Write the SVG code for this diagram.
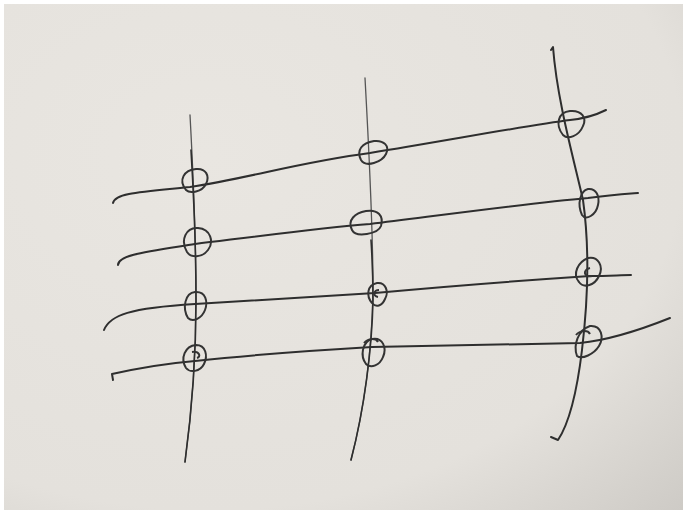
<svg xmlns="http://www.w3.org/2000/svg" width="683" height="510" viewBox="0 0 683 510">
<defs>
<radialGradient id="bg" cx="0.3" cy="0.3" r="1">
<stop offset="0" stop-color="#e9e6e1"/>
<stop offset="0.7" stop-color="#e4e1dc"/>
<stop offset="1" stop-color="#cdcac5"/>
</radialGradient>
<style>
.ln{fill:none;stroke:#2e2e2e;stroke-width:2;stroke-linecap:round;stroke-linejoin:round}
.lt{fill:none;stroke:#555;stroke-width:1.3;stroke-linecap:round}
.nd{fill:none;stroke:#333;stroke-width:2}
</style>
</defs>
<rect x="0" y="0" width="683" height="510" fill="#ffffff"/>
<rect x="4" y="4" width="679" height="506" fill="url(#bg)"/>
<g id="connectors">
<path class="lt" d="M190,115 C193,170 196,240 196,300 C196,360 192,410 185,462"/>
<path class="lt" d="M365,78 C369,150 373,230 373,290 C372,350 364,410 351,460"/>
<path class="ln" d="M551,50 L553,47 C557,100 574,160 583,200 C590,250 588,300 582,350 C576,400 568,425 558,440 L551,437"/>
<path class="ln" d="M191,150 C194,200 196,250 196,300 C196,360 192,410 185,462" style="stroke-width:1.6"/>
<path class="ln" d="M371,240 C373,270 373,290 373,300 C372,350 364,410 351,460" style="stroke-width:1.6"/>
<path class="ln" d="M113,203 C115,193 140,192 190,187 C250,178 300,162 370,153 C450,140 530,125 570,120 C590,118 600,113 606,110"/>
<path class="ln" d="M118,265 C118,255 145,252 195,244 C260,236 320,228 370,224 C450,214 530,203 588,198 C610,195 625,194 638,193"/>
<path class="ln" d="M104,330 C110,315 130,308 195,304 C260,300 320,296 375,293 C450,286 530,280 590,276 C610,276 620,275 631,275"/>
<path class="ln" d="M113,380 L112,374 C130,370 160,364 195,361 C260,354 320,350 372,347 C450,345 520,344 580,343 C610,340 640,330 670,318"/>
</g>
<g id="n11"><path class="nd" d="M186,190 C178,180 184,170 196,169 C206,168 210,176 206,184 C202,192 190,194 186,190 Z"/></g>
<g id="n12"><path class="nd" d="M361,160 C356,150 362,143 374,141 C384,140 390,146 386,154 C382,162 366,168 361,160 Z"/></g>
<g id="n13"><path class="nd" d="M563,135 C555,125 558,112 570,111 C582,110 587,118 583,126 C579,136 568,140 563,135 Z"/></g>
<g id="n21"><path class="nd" d="M187,252 C180,240 186,227 198,228 C211,229 214,242 208,250 C202,258 191,258 187,252 Z"/></g>
<g id="n22"><path class="nd" d="M352,230 C347,220 355,213 366,211 C378,209 384,216 381,226 C378,234 356,238 352,230 Z"/></g>
<g id="n23"><path class="nd" d="M582,215 C577,204 580,191 588,189 C596,188 600,196 598,205 C596,215 586,221 582,215 Z"/></g>
<g id="n31"><path class="nd" d="M188,318 C182,308 185,293 195,292 C206,291 208,302 205,310 C202,318 193,323 188,318 Z"/></g>
<g id="n32"><path class="nd" d="M372,303 C366,296 367,285 377,283 C386,282 389,292 385,299 C382,306 376,308 372,303 Z"/><path class="nd" d="M379,290 C374,290 372,296 378,297"/></g>
<g id="n33"><path class="nd" d="M579,282 C572,274 578,262 588,258 C598,256 604,266 599,276 C595,285 584,289 579,282 Z"/><path class="nd" d="M590,268 C582,270 584,278 592,276"/></g>
<g id="n41"><path class="nd" d="M186,368 C180,358 185,346 196,345 C206,345 208,356 204,364 C200,372 190,373 186,368 Z"/><path class="nd" d="M192,352 C200,351 201,357 197,358"/></g>
<g id="n42"><path class="nd" d="M366,364 C360,356 362,342 372,339 C383,337 387,348 383,357 C380,365 371,369 366,364 Z"/><path class="nd" d="M364,343 C368,338 376,338 378,342"/></g>
<g id="n43"><path class="nd" d="M577,356 C573,345 578,330 590,326 C602,325 604,338 599,346 C594,354 582,360 577,356 Z"/><path class="nd" d="M576,335 C580,330 588,330 590,334"/></g>
</svg>
